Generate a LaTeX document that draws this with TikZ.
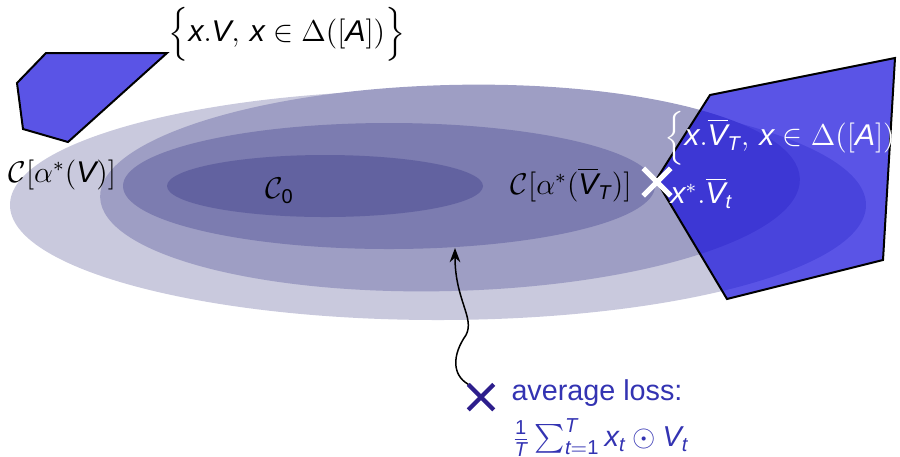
\documentclass[tikz,border=0pt]{standalone}
\usepackage{amsmath,amssymb}
\usepackage[no-math]{fontspec}
\setmainfont{Liberation Sans}
\newfontfamily\lsans{Liberation Sans}[NFSSFamily=lsans]
\DeclareSymbolFont{sfit}{TU}{lsans}{m}{it}
\DeclareSymbolFont{sfup}{TU}{lsans}{m}{n}
\DeclareMathSymbol{x}{\mathalpha}{sfit}{`x}
\DeclareMathSymbol{t}{\mathalpha}{sfit}{`t}
\DeclareMathSymbol{A}{\mathalpha}{sfit}{`A}
\DeclareMathSymbol{T}{\mathalpha}{sfit}{`T}
\DeclareMathSymbol{V}{\mathalpha}{sfit}{`V}
\DeclareMathSymbol{0}{\mathalpha}{sfup}{`0}
\DeclareMathSymbol{1}{\mathalpha}{sfup}{`1}
\usepackage{xcolor}
\usepackage{tikz}
\usetikzlibrary{arrows.meta,shapes.misc}

\definecolor{ringA}{RGB}{201,201,221}
\definecolor{ringB}{RGB}{158,158,196}
\definecolor{ringC}{RGB}{124,124,176}
\definecolor{ringD}{RGB}{98,98,160}
\definecolor{hullblue}{RGB}{20,12,220}
\definecolor{struct}{rgb}{0.2,0.2,0.7}
\definecolor{crossblue}{RGB}{45,30,140}

\begin{document}
\begin{tikzpicture}[x=0.4pt,y=-0.4pt,>=Stealth,font=\fontsize{12}{14}\selectfont,
  hull/.style={draw=black,line width=0.8pt,fill=hullblue,fill opacity=0.7},
  lbl/.style={inner sep=0pt},
  wlbl/.style={inner sep=0pt,text=white},
  xmark/.style={cross out,draw,minimum size=8.5pt,inner sep=0pt,line width=1.7pt}]
  \useasboundingbox (0,0) rectangle (900,456);
  \clip (0,0) rectangle (900,456);
  % level sets
  \fill[ringA] (438,205) ellipse [x radius=428,y radius=115];
  \fill[ringB,rotate around={1.5:(450,188)}] (450,188) ellipse [x radius=350,y radius=103];
  \fill[ringC] (389,186) ellipse [x radius=266,y radius=63];
  \fill[ringD] (325,186) ellipse [x radius=158,y radius=31];
  % loss sets
  \draw[hull] (46,53) -- (167,53) -- (68,142) -- (23,129) -- (17,83) -- cycle;
  \draw[hull] (710,95) -- (895,58) -- (883,260) -- (727,299) -- (656,180) -- cycle;

  \node[lbl,anchor=west] (setV) at (168,34) {$\Big\{x.V,\, x\in\Delta([A])\Big\}$};
  \node[wlbl,anchor=west] (setVT) at (664,138) {$\Big\{x.\overline{V}_T,\, x\in\Delta([A])\Big\}$};
  \node[lbl,anchor=west] (cV) at (8,175) {$\mathcal{C}[\alpha^*(V)]$};
  \node[lbl] (c0) at (280,191) {$\mathcal{C}_0$};
  \node[lbl,anchor=east] (cVT) at (632,185) {$\mathcal{C}[\alpha^*(\overline{V}_T)]$};
  \node[xmark,draw=white,line width=2pt,minimum size=9pt] (xstar) at (657,182) {};
  \node[wlbl,anchor=west] (xsl) at (670,193) {$x^*.\overline{V}_t$};

  \node[xmark,draw=crossblue] (avgpt) at (481,397) {};
  \node[lbl,anchor=north west,align=left,text=struct,font=\fontsize{11.5}{13}\selectfont] (avg) at (511,379)
    {average loss:\\[4pt] $\frac{1}{T}\sum_{t=1}^T x_t\odot V_t$};
  \coordinate (tip) at (455,248);
  \draw[->,line width=0.6pt] (avgpt.north west) .. controls (452,375) and (452,355) .. (466,335)
    .. controls (475,318) and (455,300) .. (tip);
\end{tikzpicture}
\end{document}
